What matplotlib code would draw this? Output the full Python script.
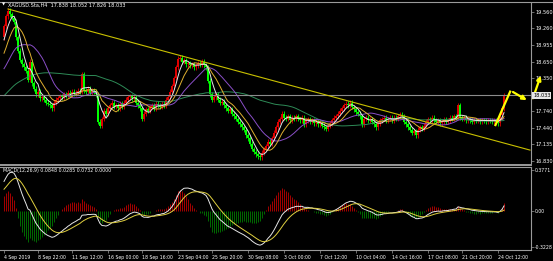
import matplotlib.pyplot as plt
import numpy as np
import pandas as pd

# XAGUSD H4 closes (chart bars)
closes = [
    19.30, 19.48, 19.58, 19.52, 19.45, 19.38, 19.10, 18.85, 18.68, 18.60,
    18.55, 18.48, 18.32, 18.65, 18.25, 18.15, 18.05, 18.10, 17.98, 18.00,
    17.95, 17.90, 17.88, 17.85, 17.80, 17.90, 17.95, 17.98, 18.02, 18.00,
    18.05, 18.03, 18.08, 18.05, 18.10, 18.07, 18.08, 18.12, 18.10, 18.42,
    18.12, 18.10, 18.15, 18.08, 18.12, 18.10, 18.05, 17.55, 17.48, 17.60,
    17.75, 17.70, 17.80, 17.85, 17.90, 17.82, 17.85, 17.80, 17.88, 17.83,
    17.90, 17.95, 18.00, 18.02, 17.98, 18.00, 17.90, 17.85, 17.80, 17.60,
    17.70, 17.78, 17.75, 17.82, 17.85, 17.80, 17.88, 17.85, 17.82, 17.88,
    17.85, 17.95, 18.00, 18.10, 18.20, 18.35, 18.55, 18.70, 18.72, 18.65,
    18.68, 18.60, 18.62, 18.58, 18.60, 18.55, 18.58, 18.62, 18.60, 18.65,
    18.58, 18.55, 18.30, 18.05, 17.95, 18.00, 18.05, 17.95, 17.90, 17.92,
    17.85, 17.80, 17.75, 17.78, 17.70, 17.65, 17.60, 17.55, 17.50, 17.45,
    17.40, 17.30, 17.25, 17.15, 17.05, 17.00, 16.95, 16.92, 16.90, 16.98,
    17.05, 17.10, 17.18, 17.15, 17.25, 17.35, 17.45, 17.55, 17.60, 17.70,
    17.62, 17.60, 17.65, 17.58, 17.62, 17.60, 17.65, 17.60, 17.58, 17.62,
    17.50, 17.58, 17.60, 17.55, 17.58, 17.52, 17.55, 17.50, 17.52, 17.48,
    17.45, 17.42, 17.48, 17.52, 17.58, 17.62, 17.65, 17.70, 17.75, 17.80,
    17.85, 17.88, 17.85, 17.90, 17.82, 17.78, 17.72, 17.70, 17.65, 17.50,
    17.60, 17.62, 17.58, 17.60, 17.55, 17.50, 17.45, 17.52, 17.58, 17.60,
    17.62, 17.58, 17.60, 17.62, 17.58, 17.62, 17.60, 17.65, 17.68, 17.65,
    17.55, 17.50, 17.45, 17.40, 17.35, 17.38, 17.30, 17.40, 17.45, 17.42,
    17.48, 17.55, 17.60, 17.58, 17.62, 17.58, 17.55, 17.58, 17.52, 17.55,
    17.60, 17.55, 17.58, 17.62, 17.60, 17.65, 17.62, 17.85, 17.62, 17.60,
    17.62, 17.58, 17.60, 17.58, 17.55, 17.58, 17.57, 17.58, 17.56, 17.58,
    17.57, 17.56, 17.58, 17.57, 17.56, 17.58, 17.55, 17.52, 17.68, 17.80,
    18.03,
]

# bars before the visible window (needed for the averages / MACD)
pre_closes = [
    17.15, 17.20, 17.18, 17.12, 17.10, 17.15, 17.20, 17.22, 17.18, 17.25,
    17.20, 17.28, 17.30, 17.28, 17.32, 17.30, 17.35, 17.33, 17.30, 17.28,
    17.40, 17.45, 17.50, 17.55, 17.60, 17.70, 17.65, 17.72, 17.80, 17.85,
    17.90, 17.95, 18.05, 18.10, 18.15, 18.20, 18.25, 18.30, 18.28, 18.35,
    18.32, 18.30, 18.28, 18.22, 18.25, 18.20, 18.18, 18.22, 18.25, 18.20,
    18.15, 18.10, 18.12, 18.15, 18.25, 18.30, 18.40, 18.45, 18.50, 18.48,
    18.52, 18.60, 18.70, 18.85, 18.95, 19.05, 19.10,
]

date_pos = [0, 17, 34, 52, 69, 87, 104, 122, 140, 158, 176, 194, 212, 229, 247]
date_labels = ['4 Sep 2019', '8 Sep 22:00', '11 Sep 12:00', '16 Sep 00:00',
               '18 Sep 16:00', '23 Sep 04:00', '25 Sep 20:00', '30 Sep 08:00',
               '3 Oct 00:00', '7 Oct 12:00', '10 Oct 04:00', '14 Oct 16:00',
               '17 Oct 08:00', '21 Oct 20:00', '24 Oct 12:00']
price_ticks = [19.560, 19.260, 18.955, 18.650, 18.350, 17.740, 17.440, 17.135, 16.830]
price_labels = ['19.560', '19.260', '18.955', '18.650', '18.350',
                '17.740', '17.440', '17.135', '16.830']
last_price = 18.033
macd_ticks = [0.3771, 0.0, -0.3228]
macd_labels = ['0.3771', '0.00', '-0.3228']

title = 'XAGUSD.Sta,H4  17.838 18.052 17.826 18.033'
macd_title = 'MACD(12,26,9) 0.0848 0.0285 0.0732 0.0000'

# drawn objects
trend_x = [2, 263]
trend_y = [19.615, 17.03]
proj_x = [245.5, 253.3, 262.6]
proj_y = [17.47, 18.12, 17.92]
proj2_x = [264, 268.8]
proj2_y = [17.93, 18.44]

# indicators
full = pd.Series(pre_closes + closes)
npre = len(pre_closes)
ma5 = full.rolling(5).mean().values[npre:]
ma10 = full.rolling(10).mean().values[npre:]
ma20 = full.rolling(20).mean().values[npre:]
ma60 = full.rolling(60).mean().values[npre:]
dif = (full.ewm(span=12, adjust=False).mean() - full.ewm(span=26, adjust=False).mean())
dea = dif.ewm(span=9, adjust=False).mean()
hist = (2 * (dif - dea)).values[npre:]
dif = dif.values[npre:]
dea = dea.values[npre:]

c = np.array(closes)
o = np.r_[pre_closes[-1], c[:-1]]
x = np.arange(len(c))

fig = plt.figure(figsize=(5.53, 2.61), dpi=100, facecolor='black')
ax = fig.add_axes([0, 1 - 163 / 261, 531 / 553, 160 / 261], facecolor='black')
ax2 = fig.add_axes([0, 1 - 250 / 261, 531 / 553, 83 / 261], facecolor='black')

xl = (-2, 263.5)
ytop = 19.560 + 9 * 0.018322
ybot = 16.830 - 2 * 0.018322

# candles
up = c >= o
wick = 0.045
for col, m in [('#e00000', up), ('#00ff00', ~up)]:
    lo = np.minimum(o, c)[m]
    hi = np.maximum(o, c)[m]
    ax.vlines(x[m], lo - wick, hi + wick, color=col, lw=0.6)
    ax.bar(x[m], np.maximum(hi - lo, 0.015), bottom=lo, width=0.75, color=col, lw=0)

ax.plot(x, ma60, color='#2e8b57', lw=0.7)
ax.plot(x, ma20, color='#8a4fc8', lw=0.7)
ax.plot(x, ma10, color='#e0b030', lw=0.7)
ax.plot(x, ma5, color='#e8e8e8', lw=0.7)

ax.axhline(last_price, color='#8c8c8c', lw=0.8)
ax.plot(trend_x, trend_y, color='#c8c000', lw=0.8)

ax.annotate('', xy=(proj_x[2], proj_y[2]), xytext=(proj_x[1], proj_y[1]),
            arrowprops=dict(arrowstyle='-|>', color='#ffff00', lw=1.6,
                            mutation_scale=6), annotation_clip=False)
ax.plot(proj_x[:2], proj_y[:2], color='#ffff00', lw=1.6, clip_on=False,
        solid_capstyle='butt')
ax.annotate('', xy=(proj2_x[1], proj2_y[1]), xytext=(proj2_x[0], proj2_y[0]),
            arrowprops=dict(arrowstyle='-|>', color='#ffff00', lw=1.6,
                            mutation_scale=6), annotation_clip=False)

ax.set_xlim(*xl)
ax.set_ylim(ybot, ytop)
ax.set_xticks([])
ax.yaxis.tick_right()
ax.set_yticks(price_ticks)
ax.set_yticklabels(price_labels)
ax.tick_params(axis='y', colors='#9a9a9a', labelcolor='white', labelsize=3.6,
               length=2, width=0.5, pad=1.5)
for s in ['left', 'top', 'bottom']:
    ax.spines[s].set_visible(False)
ax.spines['right'].set_color('#9a9a9a')
ax.spines['right'].set_linewidth(0.8)
ax.text(1.004, last_price, '18.033', transform=ax.get_yaxis_transform(),
        fontsize=3.6, color='black', va='center', ha='left',
        bbox=dict(boxstyle='square,pad=0.15', fc='#e6e6e6', ec='none'))

# MACD panel
hc = np.where(hist >= 0, '#c00000', '#007a00')
ax2.vlines(x, 0, hist, colors=hc, lw=0.6)
ax2.plot(x, dif, color='#e6e6e6', lw=0.7)
ax2.plot(x, dea, color='#e0d040', lw=0.7)
ax2.set_xlim(*xl)
ax2.set_ylim(-0.349, 0.403)
ax2.yaxis.tick_right()
ax2.set_yticks(macd_ticks)
ax2.set_yticklabels(macd_labels)
ax2.set_xticks(date_pos)
ax2.set_xticklabels(date_labels)
for lab in ax2.get_xticklabels():
    lab.set_horizontalalignment('left')
ax2.tick_params(colors='#9a9a9a', labelcolor='white', labelsize=3.3,
                length=2, width=0.5, pad=1.5)
ax2.tick_params(axis='y', labelsize=3.3, pad=0.8)
ax2.spines['left'].set_visible(False)
for s in ['right', 'top', 'bottom']:
    ax2.spines[s].set_color('#9a9a9a')
    ax2.spines[s].set_linewidth(0.8)
ax2.text(0.005, 0.985, macd_title, transform=ax2.transAxes, fontsize=3.4,
         color='white', va='top', ha='left')

# frame lines
fig.add_artist(plt.Line2D([0, 1], [1 - 2 / 261] * 2, color='#9a9a9a', lw=0.8))
fig.add_artist(plt.Line2D([0, 531 / 553], [1 - 164.5 / 261] * 2, color='#9a9a9a', lw=1.4))
fig.text(8 / 553, 1 - 5 / 261, title, fontsize=3.6, color='white', va='center', ha='left')
fig.text(2 / 553, 1 - 5 / 261, '\u25bc', fontsize=3, color='white', va='center', ha='left')

fig.savefig('out.png', dpi=100, facecolor='black')
